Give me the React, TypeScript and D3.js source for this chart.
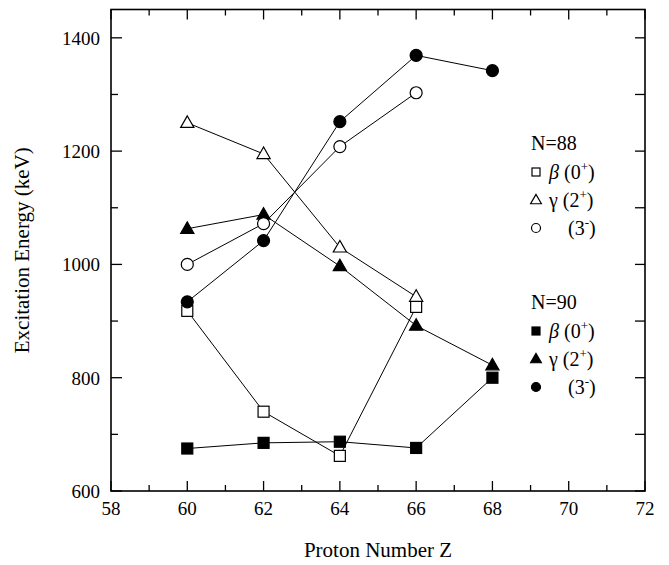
import React, { useEffect } from "react";
import * as d3 from "d3";

// Proton number Z for each series
const zN88 = [60, 62, 64, 66];
const zN90 = [60, 62, 64, 66, 68];

// N=88 excitation energies (keV)
const betaN88 = [918, 740, 662, 925];
const gammaN88 = [1250, 1195, 1030, 943];
const octN88 = [1000, 1072, 1208, 1303];

// N=90 excitation energies (keV)
const betaN90 = [675, 685, 687, 676, 800];
const gammaN90 = [1063, 1088, 997, 892, 822];
const octN90 = [934, 1042, 1252, 1369, 1342];

const xTicks = [58, 60, 62, 64, 66, 68, 70, 72];
const yTicks = [600, 800, 1000, 1200, 1400];

const W = 669;
const H = 565;
const M = { left: 111, right: 645, top: 9.5, bottom: 491 };
const FONT = "Liberation Serif, DejaVu Serif, serif";

type Shape = "square" | "triangle" | "circle";

const Marker = ({ shape, x, y, filled, size }: { shape: Shape; x: number; y: number; filled: boolean; size: number }) => {
  const fill = filled ? "#000" : "#fff";
  if (shape === "square") {
    return <rect x={x - size / 2} y={y - size / 2} width={size} height={size} fill={fill} stroke="#000" strokeWidth={1.2} />;
  }
  if (shape === "circle") {
    return <circle cx={x} cy={y} r={size / 2 + 0.5} fill={fill} stroke="#000" strokeWidth={1.2} />;
  }
  const s = size * 1.2;
  const h = s * 0.87;
  const pts = [[x, y - h * 0.6], [x - s / 2, y + h * 0.4], [x + s / 2, y + h * 0.4]];
  return <polygon points={pts.map((p) => p.join(",")).join(" ")} fill={fill} stroke="#000" strokeWidth={1.2} />;
};

export default function App() {
  useEffect(() => {
    document.body.style.margin = "0";
  }, []);

  const x = d3.scaleLinear().domain([58, 72]).range([M.left, M.right]);
  const y = d3.scaleLinear().domain([600, 1450]).range([M.bottom, M.top]);
  const line = d3.line<[number, number]>().x((d) => x(d[0])).y((d) => y(d[1]));

  const series: { z: number[]; v: number[]; shape: Shape; filled: boolean }[] = [
    { z: zN88, v: betaN88, shape: "square", filled: false },
    { z: zN90, v: betaN90, shape: "square", filled: true },
    { z: zN88, v: gammaN88, shape: "triangle", filled: false },
    { z: zN90, v: gammaN90, shape: "triangle", filled: true },
    { z: zN88, v: octN88, shape: "circle", filled: false },
    { z: zN90, v: octN90, shape: "circle", filled: true },
  ];

  const xMinor = d3.range(59, 72, 2);
  const yMinor = d3.range(700, 1450, 200);
  const yAll = d3.range(600, 1450, 100);

  const legend = [
    { title: "N=88", top: 143, filled: false },
    { title: "N=90", top: 302, filled: true },
  ];

  return (
    <svg width={W} height={H} style={{ display: "block", background: "#fff", fontFamily: FONT }}>
      {/* lines */}
      {series.map((s, i) => (
        <path key={"l" + i} d={line(s.z.map((z, j) => [z, s.v[j]] as [number, number])) || ""} fill="none" stroke="#000" strokeWidth={1} />
      ))}
      {/* markers */}
      {series.map((s, i) =>
        s.z.map((z, j) => <Marker key={"m" + i + "-" + j} shape={s.shape} x={x(z)} y={y(s.v[j])} filled={s.filled} size={11} />)
      )}

      {/* frame */}
      <rect x={M.left} y={M.top} width={M.right - M.left} height={M.bottom - M.top} fill="none" stroke="#000" strokeWidth={1.6} />

      {/* x ticks */}
      {xTicks.map((t) => (
        <g key={"xt" + t}>
          <line x1={x(t)} x2={x(t)} y1={M.bottom} y2={M.bottom - 10} stroke="#000" strokeWidth={1.3} />
          <line x1={x(t)} x2={x(t)} y1={M.top} y2={M.top + 10} stroke="#000" strokeWidth={1.3} />
          <text x={x(t)} y={M.bottom + 24} textAnchor="middle" fontSize={19}>{t}</text>
        </g>
      ))}
      {xMinor.map((t) => (
        <g key={"xm" + t}>
          <line x1={x(t)} x2={x(t)} y1={M.bottom} y2={M.bottom - 6} stroke="#000" strokeWidth={1.3} />
          <line x1={x(t)} x2={x(t)} y1={M.top} y2={M.top + 6} stroke="#000" strokeWidth={1.3} />
        </g>
      ))}

      {/* y ticks */}
      {yTicks.map((t) => (
        <g key={"yt" + t}>
          <line x1={M.left} x2={M.left + 11} y1={y(t)} y2={y(t)} stroke="#000" strokeWidth={1.3} />
          <text x={M.left - 11} y={y(t) + 7} textAnchor="end" fontSize={19}>{t}</text>
        </g>
      ))}
      {yMinor.map((t) => (
        <line key={"ym" + t} x1={M.left} x2={M.left + 7} y1={y(t)} y2={y(t)} stroke="#000" strokeWidth={1.3} />
      ))}
      {yAll.map((t) => (
        <line key={"yr" + t} x1={M.right} x2={M.right - 10} y1={y(t)} y2={y(t)} stroke="#000" strokeWidth={1.3} />
      ))}

      {/* axis titles */}
      <text x={(M.left + M.right) / 2} y={557} textAnchor="middle" fontSize={21}>Proton Number Z</text>
      <text transform={`translate(29, ${(M.top + M.bottom) / 2}) rotate(-90)`} textAnchor="middle" fontSize={21}>Excitation Energy (keV)</text>

      {/* legend */}
      {legend.map((g) => (
        <g key={g.title} fontSize={20}>
          <text x={531} y={g.top + 7}>{g.title}</text>
          <Marker shape="square" x={536} y={g.top + 29} filled={g.filled} size={8} />
          <text x={549} y={g.top + 36}>
            <tspan fontStyle="italic">β</tspan>
            <tspan> (0</tspan>
            <tspan fontSize={13} dy={-8}>+</tspan>
            <tspan dy={8}>)</tspan>
          </text>
          <Marker shape="triangle" x={536} y={g.top + 57} filled={g.filled} size={9} />
          <text x={549} y={g.top + 64}>
            <tspan>γ</tspan>
            <tspan> (2</tspan>
            <tspan fontSize={13} dy={-8}>+</tspan>
            <tspan dy={8}>)</tspan>
          </text>
          <Marker shape="circle" x={536} y={g.top + 85} filled={g.filled} size={8} />
          <text x={568} y={g.top + 92}>
            <tspan>(3</tspan>
            <tspan fontSize={13} dy={-8}>-</tspan>
            <tspan dy={8}>)</tspan>
          </text>
        </g>
      ))}
    </svg>
  );
}
